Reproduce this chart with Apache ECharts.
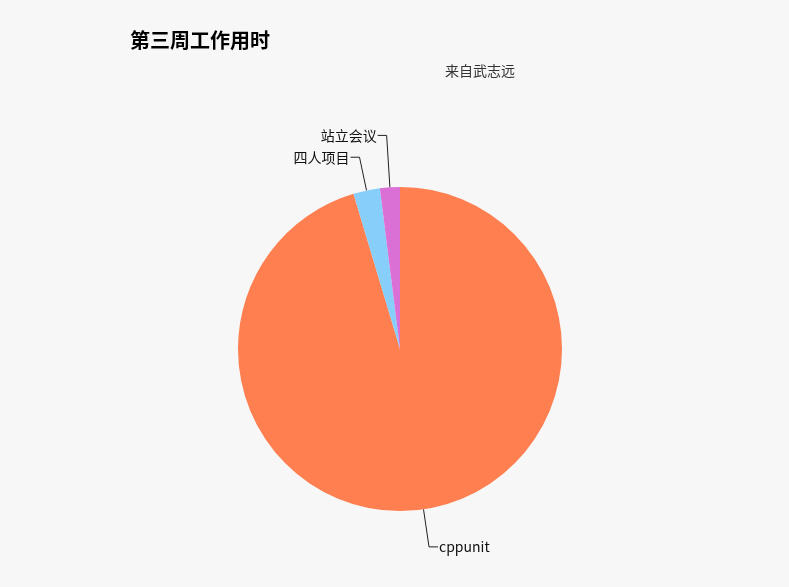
<!DOCTYPE html>
<html>
<head>
<meta charset="utf-8">
<script src="https://cdn.jsdelivr.net/npm/echarts@6/dist/echarts.min.js"></script>
<style>
html,body{margin:0;padding:0;background:#f7f7f7;}
#main{width:789px;height:587px;}
</style>
</head>
<body>
<div id="main"></div>
<script>
var titleText = '第三周工作用时';
var subText = '来自武志远';
var categories = ['cppunit', '四人项目', '站立会议'];
var values = [720, 20, 15];
var colors = ['#ff7f50', '#87cefa', '#da70d6'];

var chart = echarts.init(document.getElementById('main'));
var font = '"Noto Sans CJK SC", "Noto Sans", sans-serif';
function lineLen(name) {
  if (name === '站立会议') return 52;
  if (name === '四人项目') return 34;
  return 38;
}
chart.setOption({
  backgroundColor: '#f7f7f7',
  animation: false,
  title: [
    { text: titleText, left: 125, top: 25,
      textStyle: { fontSize: 20, fontWeight: 'bold', color: '#000', fontFamily: font } },
    { text: subText, left: 440, top: 59,
      textStyle: { fontSize: 14, fontWeight: 'normal', color: '#333', fontFamily: font } }
  ],
  series: [{
    type: 'pie',
    center: [400, 349],
    radius: 162,
    startAngle: 90,
    clockwise: true,
    avoidLabelOverlap: false,
    data: categories.map(function (c, i) {
      return { name: c, value: values[i], itemStyle: { color: colors[i] },
               labelLine: { length: lineLen(c) } };
    }),
    label: { show: true, fontSize: 14, color: '#111', fontFamily: font, distanceToLabelLine: 1 },
    labelLine: { show: true, length: 38, length2: 9, lineStyle: { color: '#222', width: 1 } },
    emphasis: { disabled: true }
  }]
});
</script>
</body>
</html>
